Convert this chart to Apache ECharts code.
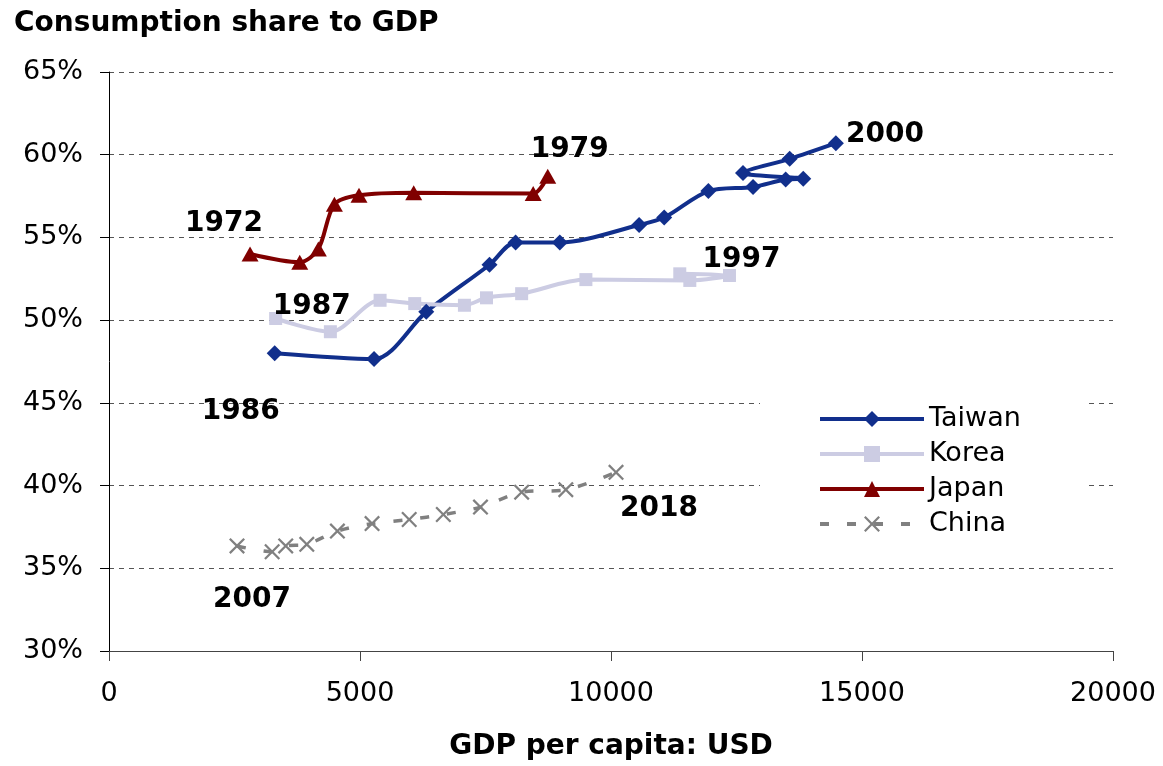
<!DOCTYPE html>
<html>
<head>
<meta charset="utf-8">
<script src="https://cdn.jsdelivr.net/npm/echarts@6/dist/echarts.min.js"></script>
<style>
  html, body { margin: 0; padding: 0; background: #fff; }
  #chart { width: 1163px; height: 766px; }
</style>
</head>
<body>
<div id="chart"></div>
<script>
// GDP per capita (USD) and consumption share (%)
const taiwanX = [3300, 5280, 6320, 7580, 8100, 8980, 10560, 11060, 11940, 12830, 13480, 13830, 12630, 13560, 14480]
const taiwanY = [48.0, 47.65, 50.5, 53.35, 54.7, 54.7, 55.75, 56.2, 57.8, 58.05, 58.5, 58.55, 58.9, 59.75, 60.7]
const koreaX = [3320, 4410, 5400, 6090, 7080, 7520, 8220, 9500, 11570, 12360, 11370]
const koreaY = [50.1, 49.3, 51.2, 51.0, 50.9, 51.35, 51.6, 52.45, 52.4, 52.7, 52.8]
const japanX = [2810, 3800, 4170, 4490, 4980, 6070, 8450, 8740]
const japanY = [54.0, 53.5, 54.3, 57.0, 57.55, 57.7, 57.65, 58.7]
const chinaX = [2550, 3250, 3520, 3940, 4550, 5240, 5980, 6660, 7400, 8220, 9100, 10100]
const chinaY = [36.35, 36.0, 36.35, 36.45, 37.25, 37.7, 37.95, 38.25, 38.7, 39.6, 39.75, 40.8]

// year labels: [data index, text, offset]
const taiwanLabels = [[0, '1986', [-34, 58]], [14, '2000', [49, -8]]]
const koreaLabels = [[0, '1987', [36, -12]], [9, '1997', [12, -16]]]
const japanLabels = [[0, '1972', [-26, -30]], [7, '1979', [22, -27]]]
const chinaLabels = [[0, '2007', [15, 54]], [11, '2018', [43, 36]]]

const crossPath = 'path://M0,1L1,0L5,4L9,0L10,1L6,5L10,9L9,10L5,6L1,10L0,9L4,5Z'

function buildData(xs, ys, labels) {
  return xs.map((x, i) => {
    const item = { value: [x, ys[i]] }
    const lab = labels.find((l) => l[0] === i)
    if (lab) {
      item.label = {
        show: true,
        formatter: lab[1],
        position: 'inside',
        offset: lab[2],
        color: '#000',
        fontFamily: 'DejaVu Sans',
        fontWeight: 'bold',
        fontSize: 28,
      }
    }
    return item
  })
}

const chart = echarts.init(document.getElementById('chart'))
chart.setOption({
  animation: false,
  title: {
    text: 'Consumption share to GDP',
    left: 9,
    top: 5,
    textStyle: { fontFamily: 'DejaVu Sans', fontWeight: 'bold', fontSize: 28, color: '#000' },
  },
  grid: { left: 109, right: 50, top: 72, bottom: 113 },
  legend: {
    orient: 'vertical',
    left: 760,
    top: 389,
    padding: [15, 65, 15, 58],
    backgroundColor: '#fff',
    itemWidth: 104,
    itemHeight: 20,
    itemGap: 5,
    lineStyle: { width: 4 },
    textStyle: { fontFamily: 'DejaVu Sans', fontSize: 27, color: '#000', lineHeight: 30 },
    data: ['Taiwan', 'Korea', 'Japan', 'China'],
  },
  xAxis: {
    type: 'value',
    min: 0,
    max: 20000,
    interval: 5000,
    name: 'GDP per capita: USD',
    nameLocation: 'middle',
    nameGap: 82,
    nameTextStyle: { fontFamily: 'DejaVu Sans', fontWeight: 'bold', fontSize: 28, color: '#000' },
    axisLine: { lineStyle: { color: '#444', width: 1 } },
    axisTick: { show: true, length: 10, lineStyle: { color: '#444' } },
    axisLabel: {
      margin: 29,
      formatter: (v) => String(v),
      fontFamily: 'DejaVu Sans',
      fontSize: 27,
      color: '#000',
    },
    splitLine: { show: false },
  },
  yAxis: {
    type: 'value',
    min: 30,
    max: 65,
    interval: 5,
    axisLine: { show: true, lineStyle: { color: '#000', width: 1 } },
    axisTick: { show: true, length: 9, lineStyle: { color: '#000' } },
    axisLabel: { margin: 26, formatter: '{value}%', fontFamily: 'DejaVu Sans', fontSize: 27, color: '#000' },
    splitLine: { show: true, lineStyle: { color: '#555', type: [5, 5], width: 1 } },
  },
  series: [
    {
      name: 'Taiwan',
      type: 'line',
      smooth: 0.3,
      symbol: 'diamond',
      symbolSize: 16,
      color: '#112F8C',
      lineStyle: { width: 4, color: '#112F8C' },
      data: buildData(taiwanX, taiwanY, taiwanLabels),
    },
    {
      name: 'Korea',
      type: 'line',
      smooth: 0.3,
      symbol: 'rect',
      symbolSize: 13,
      color: '#CCCCE3',
      lineStyle: { width: 4, color: '#CCCCE3' },
      data: buildData(koreaX, koreaY, koreaLabels),
    },
    {
      name: 'Japan',
      type: 'line',
      smooth: 0.3,
      symbol: 'triangle',
      symbolSize: [17, 15],
      color: '#800000',
      lineStyle: { width: 4, color: '#800000' },
      data: buildData(japanX, japanY, japanLabels),
    },
    {
      name: 'China',
      type: 'line',
      smooth: 0.3,
      symbol: crossPath,
      symbolSize: 16,
      color: '#808080',
      lineStyle: { width: 3.5, color: '#808080', type: [9, 18] },
      data: buildData(chinaX, chinaY, chinaLabels),
    },
  ],
})
</script>
</body>
</html>
